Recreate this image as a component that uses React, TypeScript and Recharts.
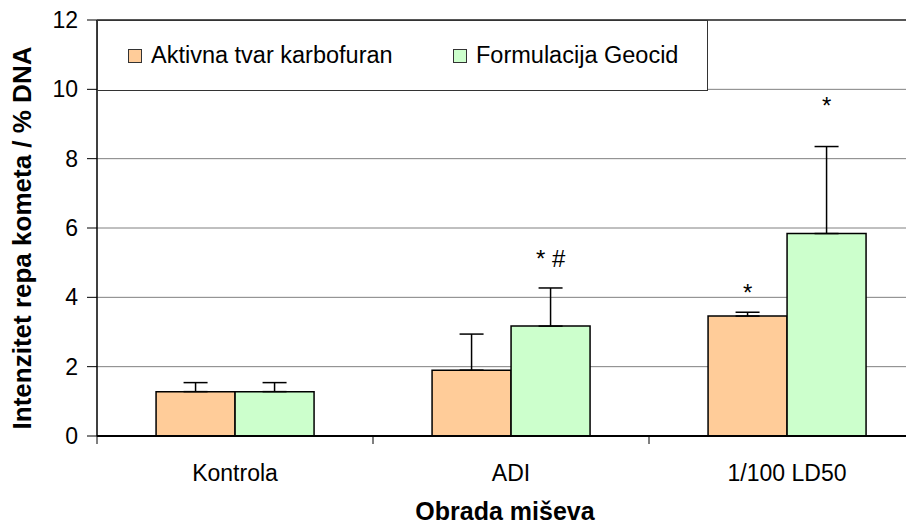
import {
  BarChart,
  Bar,
  XAxis,
  YAxis,
  CartesianGrid,
  Legend,
  ErrorBar,
  LabelList,
  ReferenceLine,
} from "recharts";

const categories = ["Kontrola", "ADI", "1/100 LD50"];
const karbofuran = [1.28, 1.9, 3.46];
const karbofuranSd = [0.26, 1.04, 0.11];
const geocid = [1.28, 3.17, 5.84];
const geocidSd = [0.26, 1.1, 2.51];
// significance marks and the value at which their baseline sits
const karbofuranMark = ["", "", "*"];
const karbofuranMarkAt = [0, 0, 3.9];
const geocidMark = ["", "* #", "*"];
const geocidMarkAt = [0, 4.88, 9.3];
const yTicks = [0, 2, 4, 6, 8, 10, 12];

const FONT = '"Liberation Sans", Arial, sans-serif';
const ORANGE = "#FFCC99";
const GREEN = "#CCFFCC";
const BAND = 276;

const data = categories.map((name, i) => ({
  name,
  karbofuran: karbofuran[i],
  karbofuranErr: [0, karbofuranSd[i]],
  karbofuranMark: karbofuranMark[i],
  geocid: geocid[i],
  geocidErr: [0, geocidSd[i]],
  geocidMark: geocidMark[i],
}));

function markLabel(values: number[], at: number[]) {
  return (props: any) => {
    const { x, y, width, height, value, index } = props;
    if (!value) return null;
    const unit = Number(height) / values[index];
    const baseY = Number(y) + Number(height) - at[index] * unit;
    return (
      <text
        x={Number(x) + Number(width) / 2}
        y={baseY}
        textAnchor="middle"
        fontSize={24}
        fontFamily={FONT}
        fill="#000"
      >
        {value}
      </text>
    );
  };
}

const XTick = (props: any) => {
  const { x, y, payload } = props;
  const edge = x - BAND / 2;
  return (
    <g>
      <line x1={edge} y1={y} x2={edge} y2={y + 8} stroke="#000" strokeWidth={1} />
      <text x={x} y={y + 45} textAnchor="middle" fontSize={23} fontFamily={FONT} fill="#000">
        {payload.value}
      </text>
    </g>
  );
};

const LegendBox = (props: any) => {
  const items = props.payload || [];
  return (
    <div
      style={{
        boxSizing: "border-box",
        width: 611,
        height: 71,
        border: "1px solid #333",
        background: "#fff",
        display: "flex",
        alignItems: "center",
        fontFamily: FONT,
        fontSize: 23.5,
        color: "#000",
      }}
    >
      {items.map((it: any, i: number) => (
        <div
          key={it.value}
          style={{
            display: "flex",
            alignItems: "center",
            marginLeft: i === 0 ? 30 : 0,
            width: i === 0 ? 325 : "auto",
          }}
        >
          <span
            style={{
              display: "inline-block",
              boxSizing: "border-box",
              width: 14,
              height: 14,
              background: it.color,
              border: "1px solid #333",
              marginRight: 9,
            }}
          />
          <span>{it.value}</span>
        </div>
      ))}
    </div>
  );
};

export default function App() {
  return (
    <div style={{ width: 906, height: 518, overflow: "hidden", fontFamily: FONT }}>
      <BarChart
        width={935}
        height={518}
        data={data}
        margin={{ top: 12, right: 18, left: 29, bottom: 0 }}
        barCategoryGap="21.4%"
        barGap={0}
      >
        <CartesianGrid vertical={false} stroke="#808080" strokeWidth={1} />
        <ReferenceLine y={12} stroke="#333" strokeWidth={1.5} />
        <XAxis
          dataKey="name"
          height={90}
          tickSize={0}
          tickMargin={0}
          tick={<XTick />}
          axisLine={{ stroke: "#000", strokeWidth: 2 }}
          label={{
            content: () => (
              <text
                x={497}
                y={512}
                textAnchor="middle"
                fontSize={25}
                fontWeight="bold"
                fontFamily={FONT}
                fill="#000"
              >
                Obrada miševa
              </text>
            ),
          }}
        />
        <YAxis
          width={60}
          domain={[0, 12]}
          ticks={yTicks}
          interval={0}
          tickSize={10}
          tickMargin={9}
          tick={{ fontSize: 23, fill: "#000", fontFamily: FONT }}
          axisLine={{ stroke: "#000", strokeWidth: 1.5 }}
          tickLine={{ stroke: "#000" }}
          label={{
            content: () => (
              <text
                transform="translate(14,230) rotate(-90)"
                textAnchor="middle"
                dominantBaseline="central"
                fontSize={26}
                fontWeight="bold"
                fontFamily={FONT}
                fill="#000"
              >
                Intenzitet repa kometa / % DNA
              </text>
            ),
          }}
        />
        <Legend
          layout="vertical"
          align="center"
          verticalAlign="middle"
          wrapperStyle={{ left: 89, top: 12, width: 611, height: 71 }}
          content={<LegendBox />}
        />
        <Bar
          dataKey="karbofuran"
          name="Aktivna tvar karbofuran"
          fill={ORANGE}
          stroke="#000"
          strokeWidth={1.5}
          isAnimationActive={false}
        >
          <ErrorBar dataKey="karbofuranErr" width={12} stroke="#000" strokeWidth={1.5} direction="y" />
          <LabelList dataKey="karbofuranMark" content={markLabel(karbofuran, karbofuranMarkAt)} />
        </Bar>
        <Bar
          dataKey="geocid"
          name="Formulacija Geocid"
          fill={GREEN}
          stroke="#000"
          strokeWidth={1.5}
          isAnimationActive={false}
        >
          <ErrorBar dataKey="geocidErr" width={12} stroke="#000" strokeWidth={1.5} direction="y" />
          <LabelList dataKey="geocidMark" content={markLabel(geocid, geocidMarkAt)} />
        </Bar>
      </BarChart>
    </div>
  );
}
